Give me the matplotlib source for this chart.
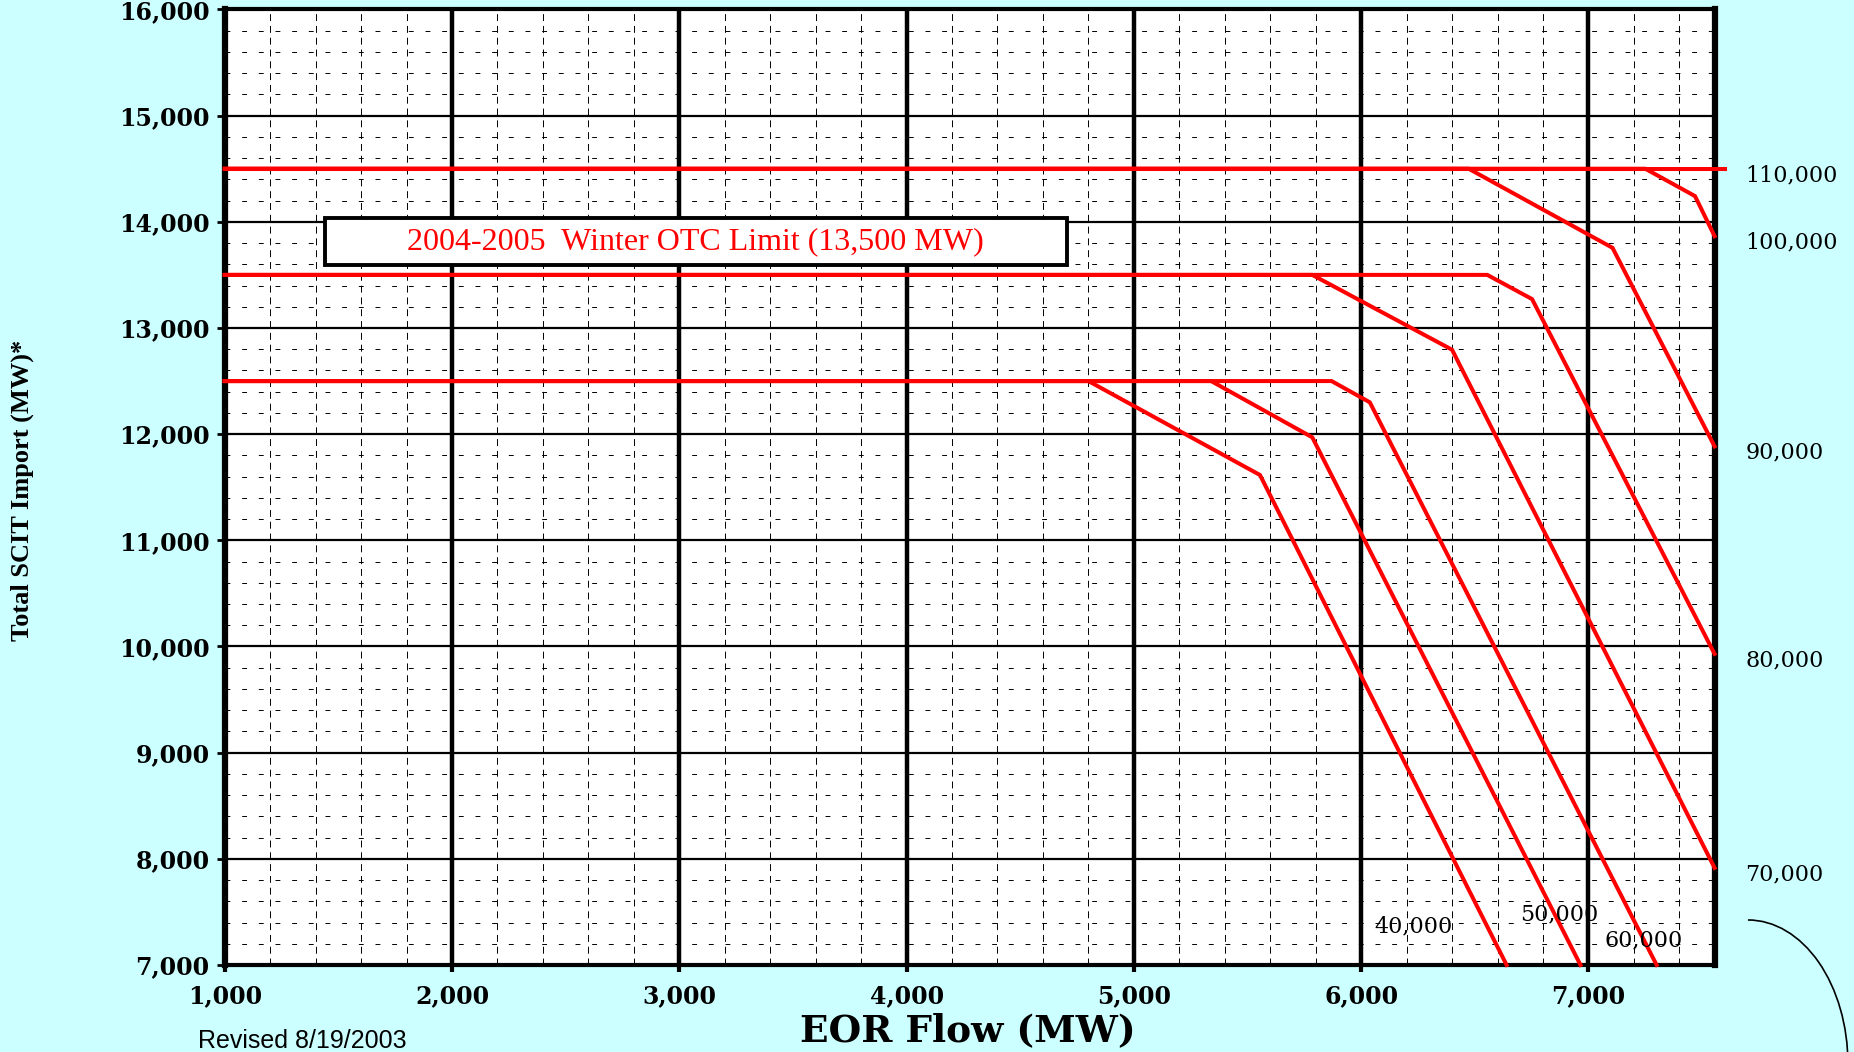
import matplotlib
matplotlib.use('Agg')
import numpy as np
import matplotlib.pyplot as plt
from matplotlib.patches import Rectangle, Arc
from matplotlib.ticker import MultipleLocator, FuncFormatter

# Curves (total import limit vs EOR flow), one per load level
curve_labels = ['40,000', '50,000', '60,000', '70,000', '80,000', '90,000', '100,000', '110,000']
curve_x = [
    [1000, 4800, 5555, 6640],
    [1000, 5340, 5785, 6965],
    [1000, 5870, 6038, 7300],
    [1000, 5785, 6400, 7555],
    [1000, 6555, 6752, 7555],
    [1000, 6473, 7106, 7555],
    [1000, 7250, 7469, 7555],
    [1000, 7600],
]
curve_y = [
    [12500, 12500, 11615, 7000],
    [12500, 12500, 11970, 7000],
    [12500, 12500, 12300, 7000],
    [13500, 13500, 12795, 7915],
    [13500, 13500, 13272, 9930],
    [14500, 14500, 13755, 11885],
    [14500, 14500, 14242, 13865],
    [14500, 14500],
]

x_ticks = [1000, 2000, 3000, 4000, 5000, 6000, 7000]
y_ticks = [7000, 8000, 9000, 10000, 11000, 12000, 13000, 14000, 15000, 16000]

note_text = '2004-2005  Winter OTC Limit (13,500 MW)'
revised_text = 'Revised 8/19/2003'

BG = '#CCFFFF'
RED = '#FF0000'
plt.rcParams['lines.scale_dashes'] = False

fig = plt.figure(figsize=(18.54, 10.52), dpi=100, facecolor=BG)
ax = fig.add_axes([0.1212, 0.0827, 0.8036, 0.9083])
ax.set_facecolor('white')
ax.set_xlim(1000, 7555)
ax.set_ylim(7000, 16000)

# grid
ax.set_axisbelow(True)
ax.xaxis.set_minor_locator(MultipleLocator(200))
ax.yaxis.set_minor_locator(MultipleLocator(200))
ax.grid(which='minor', axis='x', color='black', lw=0.7, linestyle=(0, (5, 3.5)))
ax.grid(which='minor', axis='y', color='black', lw=0.7, linestyle=(0, (3.5, 8.5)))
ax.grid(which='major', axis='x', color='black', lw=3.2)
ax.grid(which='major', axis='y', color='black', lw=1.6)

for s in ['left', 'right']:
    ax.spines[s].set_linewidth(4.5)
for s in ['top', 'bottom']:
    ax.spines[s].set_linewidth(3.0)

ax.set_xticks(x_ticks)
ax.set_yticks(y_ticks)
fmt = FuncFormatter(lambda v, p: f'{int(v):,}')
ax.xaxis.set_major_formatter(fmt)
ax.yaxis.set_major_formatter(fmt)
ax.tick_params(which='minor', length=0)
ax.tick_params(axis='y', which='major', length=6, width=2, pad=5)
ax.tick_params(axis='x', which='major', length=5, width=3, pad=9)
for lab in ax.get_xticklabels() + ax.get_yticklabels():
    lab.set_fontfamily('DejaVu Serif')
    lab.set_fontweight('bold')
    lab.set_fontsize(17)

# curves
for lbl, xs, ys in zip(curve_labels, curve_x, curve_y):
    ax.plot(xs, ys, color=RED, lw=2.9, solid_joinstyle='miter', clip_on=False, zorder=3)

# labels at the right edge for curves that end there
for lbl, xs, ys in zip(curve_labels, curve_x, curve_y):
    if xs[-1] >= 7555:
        ax.text(7690, ys[-1] - 60, lbl, ha='left', va='center', fontsize=16,
                family='DejaVu Serif', clip_on=False)

# labels near the bottom for the low curves
bottom_pos = [(6231, 7360), (6870, 7480), (7244, 7236)]
for lbl, (px, py) in zip(curve_labels[:3], bottom_pos):
    ax.text(px, py, lbl, ha='center', va='center', fontsize=16, family='DejaVu Serif', zorder=4)

# OTC limit box
ax.add_patch(Rectangle((1442, 13595), 4704 - 1442, 14040 - 13595, facecolor='white',
                       edgecolor='black', lw=2.8, zorder=4))
ax.text((1442 + 4704) / 2, 13817, note_text, color=RED, ha='center', va='center',
        fontsize=23, family='Liberation Serif', zorder=5)

# axis titles
fig.text(0.522, 0.003, 'EOR Flow (MW)', ha='center', va='bottom', fontsize=27,
         fontweight='bold', family='DejaVu Serif')
fig.text(0.012, 0.534, 'Total SCIT Import (MW)*', ha='center', va='center', rotation=90,
         fontsize=19, fontweight='bold', family='Liberation Serif')
fig.text(0.107, 0.004, revised_text, ha='left', va='baseline', fontsize=18, family='Liberation Sans')

# decorative arc at bottom right
fig.patches.append(Arc((0.9428, -0.0114), 2 * 100 / 1854, 2 * 144 / 1052, theta1=0, theta2=90,
                       transform=fig.transFigure, color='black', lw=1.2))

fig.savefig('out.png', dpi=100, facecolor=BG)
